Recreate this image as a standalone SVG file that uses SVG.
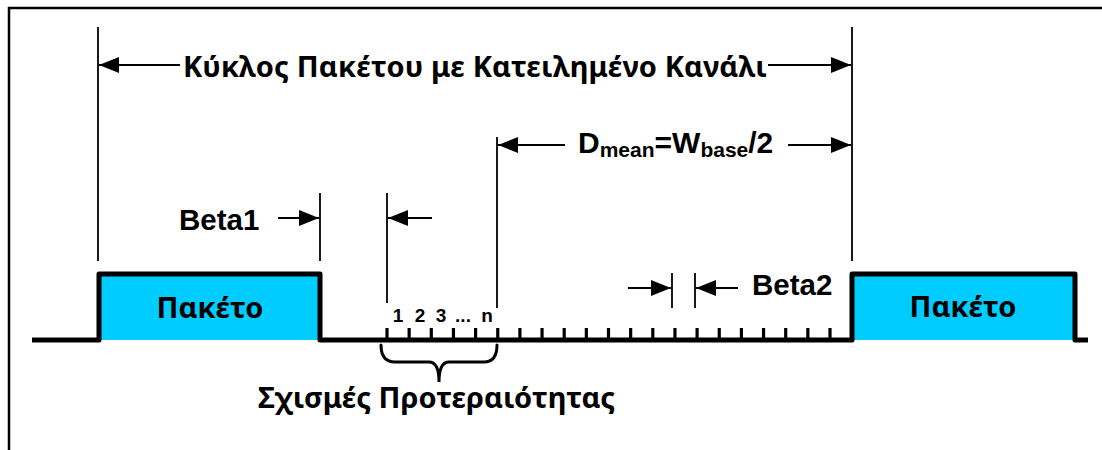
<svg xmlns="http://www.w3.org/2000/svg" width="1102" height="450" viewBox="0 0 1102 450">
  <style>
    .frame { fill: none; stroke: #000; stroke-width: 2.5; }
    .dim { fill: none; stroke: #000; stroke-width: 2; }
    .ext { fill: none; stroke: #000; stroke-width: 1.8; }
    .signal { fill: none; stroke: #000; stroke-width: 5; stroke-linejoin: round; }
    .tick { stroke: #000; stroke-width: 3.2; }
    .brace { fill: none; stroke: #000; stroke-width: 3; stroke-linecap: round; }
    .greek { font-family: "Noto Sans", "Open Sans", "DejaVu Sans", sans-serif; font-weight: bold; fill: #000; }
    .latin { font-family: "Liberation Sans", Arial, sans-serif; font-weight: bold; fill: #000; }
    .pkt { fill: #00CCFF; }
  </style>
  <defs>
    <marker id="arr" markerUnits="userSpaceOnUse" markerWidth="20" markerHeight="16" refX="20" refY="8" orient="auto">
      <path d="M0,0 L20,8 L0,16 Z" fill="#000"/>
    </marker>
  </defs>

  <rect class="frame" x="9" y="8" width="1120" height="470"/>

  <!-- packets on the channel timeline -->
  <g id="packet1">
    <rect class="pkt" x="99" y="274" width="221" height="66"/>
    <text class="greek" x="210" y="318" font-size="29" text-anchor="middle">Πακέτο</text>
  </g>
  <g id="packet2">
    <rect class="pkt" x="852" y="274" width="223" height="66"/>
    <text class="greek" x="963" y="317" font-size="29" text-anchor="middle">Πακέτο</text>
  </g>

  <!-- channel signal level -->
  <g id="signal">
    <path class="signal" d="M32,340 H99 V274 H320 V340 H852 V274 H1075 V340 H1088"/>
  </g>

  <!-- priority slots -->
  <g id="slots">
    <line class="tick" x1="387" y1="328" x2="387" y2="340"/>
    <line class="tick" x1="409.15" y1="328" x2="409.15" y2="340"/>
    <line class="tick" x1="431.3" y1="328" x2="431.3" y2="340"/>
    <line class="tick" x1="453.45" y1="328" x2="453.45" y2="340"/>
    <line class="tick" x1="475.6" y1="328" x2="475.6" y2="340"/>
    <line class="tick" x1="497.75" y1="328" x2="497.75" y2="340"/>
    <line class="tick" x1="519.9" y1="328" x2="519.9" y2="340"/>
    <line class="tick" x1="542.05" y1="328" x2="542.05" y2="340"/>
    <line class="tick" x1="564.2" y1="328" x2="564.2" y2="340"/>
    <line class="tick" x1="586.35" y1="328" x2="586.35" y2="340"/>
    <line class="tick" x1="608.5" y1="328" x2="608.5" y2="340"/>
    <line class="tick" x1="630.65" y1="328" x2="630.65" y2="340"/>
    <line class="tick" x1="652.8" y1="328" x2="652.8" y2="340"/>
    <line class="tick" x1="674.95" y1="328" x2="674.95" y2="340"/>
    <line class="tick" x1="697.1" y1="328" x2="697.1" y2="340"/>
    <line class="tick" x1="719.25" y1="328" x2="719.25" y2="340"/>
    <line class="tick" x1="741.4" y1="328" x2="741.4" y2="340"/>
    <line class="tick" x1="763.55" y1="328" x2="763.55" y2="340"/>
    <line class="tick" x1="785.7" y1="328" x2="785.7" y2="340"/>
    <line class="tick" x1="807.85" y1="328" x2="807.85" y2="340"/>
    <line class="tick" x1="830" y1="328" x2="830" y2="340"/>
    <text class="latin" font-size="19" y="322" text-anchor="middle"><tspan x="398">1</tspan><tspan x="420">2</tspan><tspan x="441">3</tspan><tspan x="463">...</tspan><tspan x="487">n</tspan></text>
  </g>

  <g id="priority-label">
    <path class="brace" d="M381,345 Q381,362 395,362 H429 Q439,362 439,382 Q439,362 449,362 H484 Q497,362 497,345"/>
    <text class="greek" x="258" y="408" font-size="29">Σχισμές Προτεραιότητας</text>
  </g>

  <!-- dimension labels -->
  <g id="cycle-label">
    <text class="greek" x="183" y="77" font-size="29" textLength="584" lengthAdjust="spacing">Κύκλος Πακέτου με Κατειλημένο Κανάλι</text>
  </g>
  <g id="dmean-label">
    <text class="latin" x="578" y="153" font-size="30">D<tspan font-size="21" dy="4">mean</tspan><tspan dy="-4">=W</tspan><tspan font-size="21" dy="4">base</tspan><tspan dy="-4">/2</tspan></text>
  </g>
  <g id="beta1-label">
    <text class="latin" x="179" y="230" font-size="29.5">Beta1</text>
  </g>
  <g id="beta2-label">
    <text class="latin" x="752" y="295" font-size="29.5">Beta2</text>
  </g>

  <!-- extension lines and dimension arrows -->
  <g id="connectors">
    <line class="ext" x1="98" y1="27" x2="98" y2="261"/>
    <line class="ext" x1="852" y1="27" x2="852" y2="261"/>
    <line class="ext" x1="320" y1="193" x2="320" y2="261"/>
    <line class="ext" x1="387" y1="193" x2="387" y2="303"/>
    <line class="ext" x1="497" y1="137" x2="497" y2="308"/>
    <line class="ext" x1="672" y1="273" x2="672" y2="308"/>
    <line class="ext" x1="695" y1="273" x2="695" y2="308"/>

    <line class="dim" x1="180" y1="65" x2="99" y2="65" marker-end="url(#arr)"/>
    <line class="dim" x1="768" y1="65" x2="851" y2="65" marker-end="url(#arr)"/>
    <line class="dim" x1="565" y1="145" x2="498" y2="145" marker-end="url(#arr)"/>
    <line class="dim" x1="788" y1="145" x2="851" y2="145" marker-end="url(#arr)"/>
    <line class="dim" x1="278" y1="218" x2="319" y2="218" marker-end="url(#arr)"/>
    <line class="dim" x1="432" y1="218" x2="388" y2="218" marker-end="url(#arr)"/>
    <line class="dim" x1="628" y1="288" x2="671" y2="288" marker-end="url(#arr)"/>
    <line class="dim" x1="738" y1="288" x2="696" y2="288" marker-end="url(#arr)"/>
  </g>
</svg>
